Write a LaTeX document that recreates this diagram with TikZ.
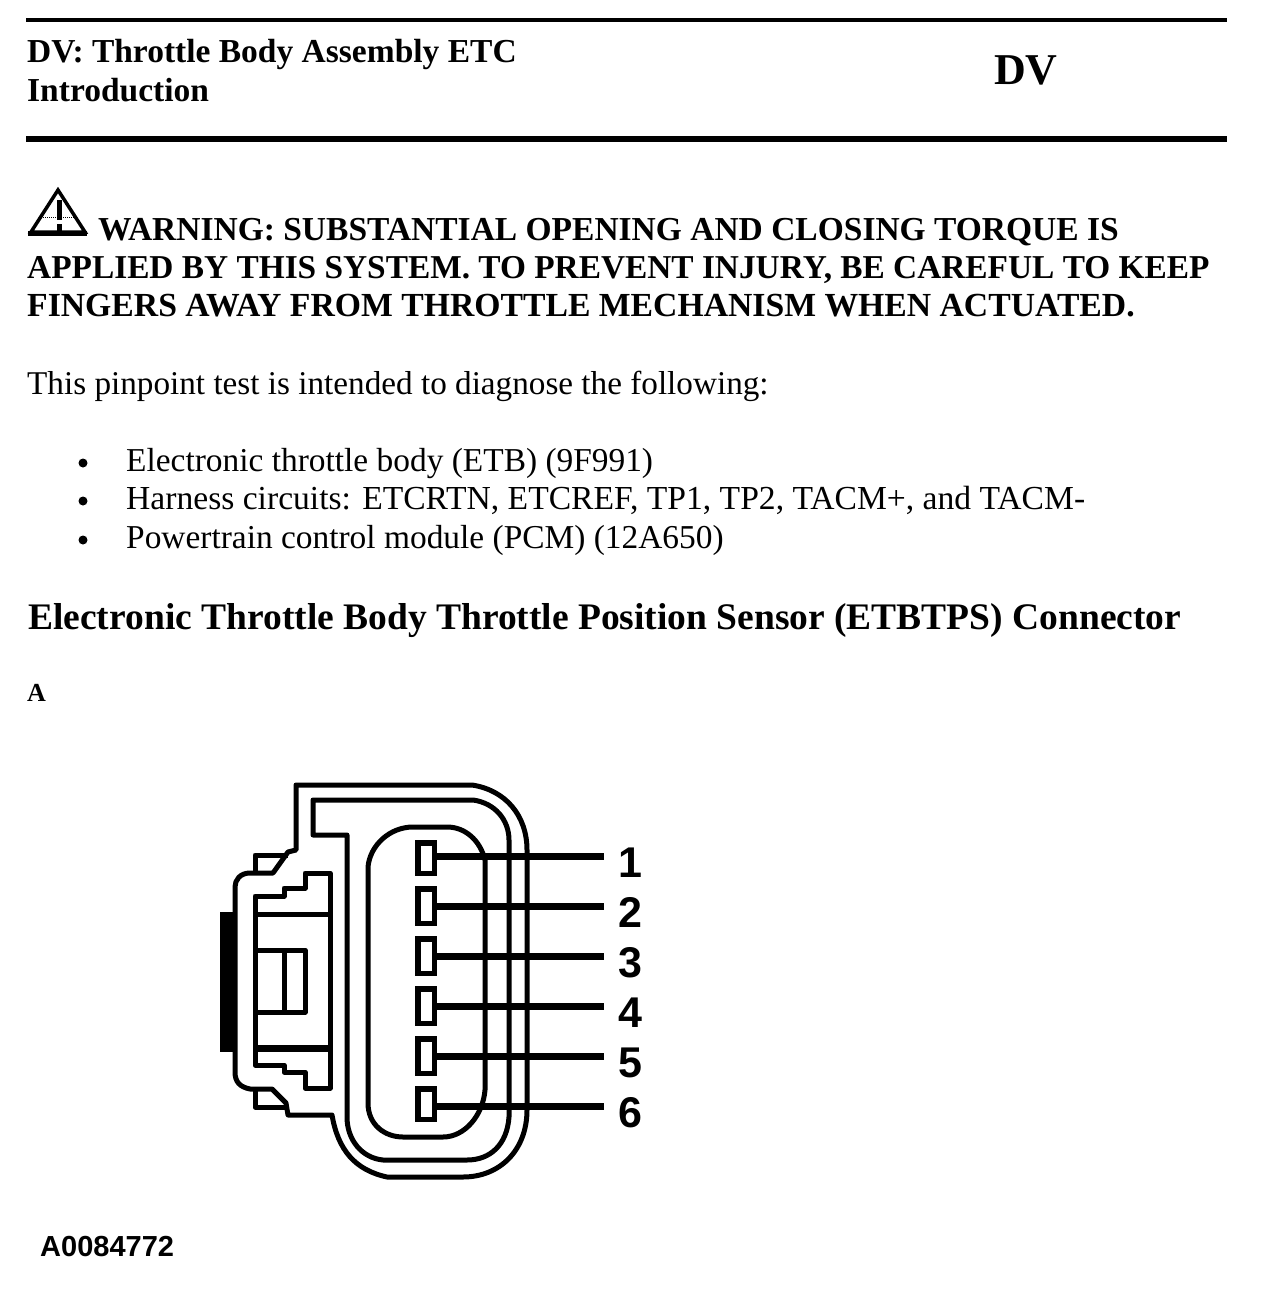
\documentclass[tikz,border=0pt]{standalone}
\usepackage{fontspec}
\setmainfont{Liberation Serif}
\setsansfont{Liberation Sans}
\usepackage{tikz}
\usetikzlibrary{positioning}
\tikzset{
  txt/.style={anchor=base west,inner sep=0pt,font=\fontsize{33.3}{38}\selectfont},
  boldtxt/.style={txt,font=\fontsize{33.5}{38}\selectfont\bfseries},
  bullet/.style={circle,fill=black,inner sep=0pt,minimum size=9pt},
  pin/.style={draw,line width=5.5pt,anchor=north west,inner sep=0pt,minimum width=16.5pt},
  wire/.style={line width=7pt},
  num/.style={anchor=base,inner sep=0pt,font=\fontsize{43}{43}\selectfont\sffamily\bfseries},
  shell/.style={line width=5pt,line join=round}
}
\begin{document}
\begin{tikzpicture}[x=1pt,y=-1pt]
\useasboundingbox (0,0) rectangle (1264,1292);
% header
\draw[line width=4pt] (26,20)--(1227,20);
\draw[line width=6pt] (26,139)--(1227,139);
\node[boldtxt] (title) at (27,63) {DV: Throttle Body Assembly ETC};
\node[boldtxt] (intro) at (27,102) {Introduction};
\node[boldtxt,font=\fontsize{44}{44}\selectfont\bfseries] (dv) at (994,85) {DV};
% warning
\draw[line width=3.5pt,line join=miter] (58,190)--(31,232)--(85,232)--cycle;
\draw[line width=5pt] (28,233)--(87,233);
\draw[line width=5pt] (59,200)--(59,220);
\draw[line width=5pt] (59,224)--(59,232);
\draw[line width=1pt,densely dotted] (43,217)--(75,217);
\node[boldtxt] (warna) at (98,240) {WARNING: SUBSTANTIAL OPENING AND CLOSING TORQUE IS};
\node[boldtxt,font=\fontsize{33.35}{38}\selectfont\bfseries] (warnb) at (27,278) {APPLIED BY THIS SYSTEM. TO PREVENT INJURY, BE CAREFUL TO KEEP};
\node[boldtxt,font=\fontsize{33.7}{38}\selectfont\bfseries] (warnc) at (27,316) {FINGERS AWAY FROM THROTTLE MECHANISM WHEN ACTUATED.};
% body text
\node[txt,font=\fontsize{33.2}{38}\selectfont] (lead) at (27,394) {This pinpoint test is intended to diagnose the following:};
\node[bullet] (ba) at (83,463) {};
\node[bullet] (bb) at (83,501) {};
\node[bullet] (bc) at (83,540) {};
\node[txt,font=\fontsize{33.4}{38}\selectfont] (ia) at (126,471) {Electronic throttle body (ETB) (9F991)};
\node[txt,font=\fontsize{33.6}{38}\selectfont] (ib) at (126,509) {Harness circuits: ETCRTN, ETCREF, TP1, TP2, TACM+, and TACM-};
\node[txt,font=\fontsize{33.4}{38}\selectfont] (ic) at (126,548) {Powertrain control module (PCM) (12A650)};
\node[boldtxt,font=\fontsize{37.5}{38}\selectfont\bfseries] (head) at (28,629) {Electronic Throttle Body Throttle Position Sensor (ETBTPS) Connector};
\node[boldtxt,font=\fontsize{26}{26}\selectfont\bfseries] (lbla) at (27,701) {A};
% connector outline
\draw[shell] (296,850)--(296,785)--(472,785) .. controls (505,790) and (527,815) .. (527,850)
  --(527,1110) .. controls (527,1150) and (500,1177) .. (463,1177)--(387,1177)
  .. controls (355,1170) and (338,1150) .. (332,1115)--(288,1115)--(286,1103)--(272,1089)
  --(250,1089) .. controls (240,1087) and (235,1082) .. (235,1072)--(235,887)
  .. controls (235,880) and (240,873) .. (250,873)--(273,873)--(288,852)--cycle;
\draw[shell] (255,871)--(255,855)--(288,855);
\draw[shell] (255,1090)--(255,1107)--(287,1107);
\draw[shell] (313,800)--(473,800) .. controls (495,803) and (509,820) .. (509,840)
  --(509,1117) .. controls (507,1145) and (490,1160) .. (467,1160)--(383,1160)
  .. controls (362,1158) and (347,1140) .. (347,1117)--(347,835)--(313,835)--cycle;
\draw[shell] (368,867) .. controls (370,845) and (390,827) .. (413,827)--(447,827)
  .. controls (465,827) and (480,840) .. (485,860)--(485,1090)
  .. controls (483,1115) and (465,1137) .. (443,1137)--(403,1137)
  .. controls (385,1137) and (368,1125) .. (368,1103)--cycle;
\fill (220,912) rectangle (236,1052);
% latch block
\draw[shell] (330,873)--(305,873)--(305,888)--(284,888)--(284,896)--(255,896)--(255,1065)
  --(284,1065)--(284,1072)--(305,1072)--(305,1088)--(330,1088)--cycle;
\draw[shell] (255,914)--(330,914);
\draw[line width=7pt] (255,1048)--(330,1048);
\draw[shell] (255,950)--(305,950)--(305,1012)--(255,1012);
\draw[shell] (284,950)--(284,1012);
% pins
\node[pin,minimum height=30.5pt] (pina) at (415,840) {};
\node[pin,minimum height=34.5pt] (pinb) at (415,886) {};
\node[pin,minimum height=34.5pt] (pinc) at (415,936) {};
\node[pin,minimum height=34.5pt] (pind) at (415,986) {};
\node[pin,minimum height=34.5pt] (pine) at (415,1036) {};
\node[pin,minimum height=30.5pt] (pinf) at (415,1086) {};
\coordinate (enda) at (604,856);
\coordinate (endb) at (604,906);
\coordinate (endc) at (604,956);
\coordinate (endd) at (604,1006);
\coordinate (ende) at (604,1056);
\coordinate (endf) at (604,1106);
\draw[wire] (pina.east|-enda)--(enda);
\draw[wire] (pinb.east|-endb)--(endb);
\draw[wire] (pinc.east|-endc)--(endc);
\draw[wire] (pind.east|-endd)--(endd);
\draw[wire] (pine.east|-ende)--(ende);
\draw[wire] (pinf.east|-endf)--(endf);
\node[num] (numa) at (630,877) {1};
\node[num] (numb) at (630,927) {2};
\node[num] (numc) at (630,977) {3};
\node[num] (numd) at (630,1027) {4};
\node[num] (nume) at (630,1077) {5};
\node[num] (numf) at (630,1127) {6};
\node[anchor=base west,inner sep=0pt,font=\fontsize{29}{29}\selectfont\sffamily\bfseries] (code) at (40,1256) {A0084772};
\end{tikzpicture}
\end{document}
